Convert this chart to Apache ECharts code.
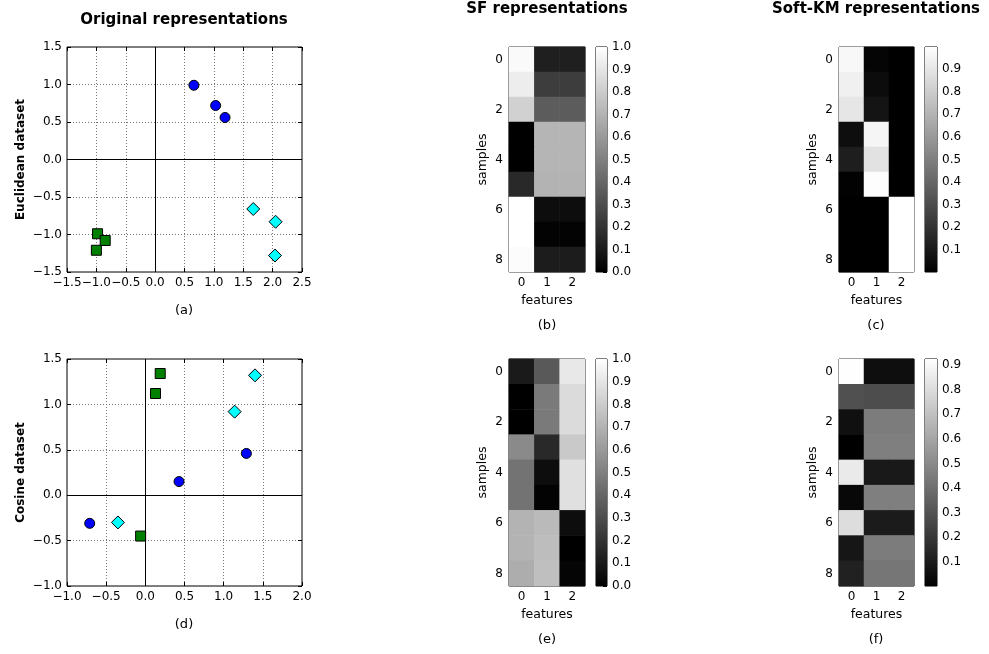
<!DOCTYPE html>
<html><head><meta charset="utf-8">
<script src="https://cdn.jsdelivr.net/npm/echarts@6/dist/echarts.min.js"></script>
<style>html,body{margin:0;padding:0;background:#fff}#c{width:989px;height:654px}</style>
</head><body><div id="c"></div><script>
// ---------- data ----------
const eucBlue  = [[0.66, 0.99], [1.03, 0.72], [1.19, 0.56]];
const eucCyan  = [[1.67, -0.66], [2.05, -0.83], [2.04, -1.28]];
const eucGreen = [[-0.98, -0.99], [-0.85, -1.08], [-1.00, -1.21]];
const cosBlue  = [[-0.71, -0.31], [0.43, 0.15], [1.29, 0.46]];
const cosCyan  = [[-0.35, -0.30], [1.14, 0.92], [1.40, 1.32]];
const cosGreen = [[-0.06, -0.45], [0.13, 1.12], [0.19, 1.34]];

const featureLabels = ['0', '1', '2'];
const sampleLabels = ['0', '1', '2', '3', '4', '5', '6', '7', '8'];

const sfEuc = [
  [0.98, 0.12, 0.12], [0.93, 0.24, 0.24], [0.82, 0.36, 0.36],
  [0.00, 0.71, 0.71], [0.00, 0.71, 0.71], [0.16, 0.70, 0.70],
  [1.00, 0.05, 0.05], [1.00, 0.01, 0.01], [0.99, 0.11, 0.11]
];
const kmEuc = [
  [0.97, 0.02, 0.003], [0.94, 0.05, 0.003], [0.90, 0.08, 0.003],
  [0.055, 0.96, 0.003], [0.12, 0.885, 0.003], [0.01, 0.99, 0.003],
  [0.003, 0.003, 0.997], [0.003, 0.003, 0.997], [0.003, 0.003, 0.997]
];
const sfCos = [
  [0.10, 0.35, 0.91], [0.00, 0.48, 0.86], [0.00, 0.48, 0.86],
  [0.54, 0.16, 0.79], [0.45, 0.05, 0.88], [0.45, 0.01, 0.88],
  [0.70, 0.73, 0.05], [0.70, 0.74, 0.00], [0.68, 0.75, 0.02]
];
const kmCos = [
  [0.92, 0.05, 0.05], [0.29, 0.28, 0.28], [0.06, 0.45, 0.45],
  [0.001, 0.46, 0.46], [0.85, 0.09, 0.09], [0.03, 0.46, 0.46],
  [0.80, 0.10, 0.10], [0.08, 0.45, 0.45], [0.12, 0.43, 0.43]
];
const sfRange = [0, 1];
const kmEucRange = [0.002, 0.998];
const kmCosRange = [0.001, 0.925];
const cbTicksFull = [0, 0.1, 0.2, 0.3, 0.4, 0.5, 0.6, 0.7, 0.8, 0.9, 1.0];
const cbTicksKM = [0.1, 0.2, 0.3, 0.4, 0.5, 0.6, 0.7, 0.8, 0.9];

// ---------- build ----------
const FONT = 'DejaVu Sans';
const fmt = v => v.toFixed(1).replace('-', '\u2212');
const grids = [], xAxes = [], yAxes = [], series = [], visualMaps = [];

function addGrid(l, t, w, h) {
  grids.push({left: l, top: t, width: w, height: h, show: true, borderColor: '#000', borderWidth: 1, backgroundColor: 'transparent'});
  return grids.length - 1;
}
const tickStyle = {show: true, inside: true, length: 4, lineStyle: {color: '#000', width: 1}};
const labelStyle = {color: '#000', fontFamily: FONT, fontSize: 12};
const noLine = {show: false, onZero: false};

function scatterPanel(gi, xr, yr, yname, sets) {
  const xi = xAxes.length, yi = yAxes.length;
  const base = {gridIndex: gi, type: 'value', interval: 0.5, axisLine: noLine, axisTick: tickStyle};
  xAxes.push(Object.assign({}, base, {min: xr[0], max: xr[1], position: 'bottom',
    axisLabel: Object.assign({formatter: fmt, margin: 5}, labelStyle),
    splitLine: {show: true, lineStyle: {type: [1, 2], color: '#777', width: 1}}}));
  xAxes.push(Object.assign({}, base, {min: xr[0], max: xr[1], position: 'top', axisLabel: {show: false}, splitLine: {show: false}}));
  yAxes.push(Object.assign({}, base, {min: yr[0], max: yr[1], position: 'left',
    name: yname, nameLocation: 'middle', nameGap: 40,
    nameTextStyle: {fontFamily: FONT, fontSize: 12, fontWeight: 'bold', color: '#000'},
    axisLabel: Object.assign({formatter: fmt, margin: 5}, labelStyle),
    splitLine: {show: true, lineStyle: {type: [1, 2], color: '#777', width: 1}}}));
  yAxes.push(Object.assign({}, base, {min: yr[0], max: yr[1], position: 'right', axisLabel: {show: false}, splitLine: {show: false}}));
  series.push({type: 'scatter', xAxisIndex: xi, yAxisIndex: yi, data: [[0, 0]], symbolSize: 0, z: 1, silent: true,
    markLine: {silent: true, symbol: 'none', label: {show: false}, animation: false,
      lineStyle: {color: '#000', type: 'solid', width: 1}, data: [{xAxis: 0}, {yAxis: 0}]}});
  sets.forEach(s => series.push({type: 'scatter', xAxisIndex: xi, yAxisIndex: yi, data: s.data, symbol: s.symbol, symbolSize: s.size, z: 3,
    itemStyle: {color: s.color, borderColor: '#000', borderWidth: 1, opacity: 1}}));
}

function heatPanel(gi, cgi, rows, range, ticks) {
  const xi = xAxes.length, yi = yAxes.length;
  const catBase = {gridIndex: gi, type: 'category', axisLine: noLine, splitLine: {show: false}, splitArea: {show: false}};
  xAxes.push(Object.assign({}, catBase, {data: featureLabels, position: 'bottom',
    name: 'features', nameLocation: 'middle', nameGap: 22,
    nameTextStyle: {fontFamily: FONT, fontSize: 12.5, color: '#000'},
    axisTick: Object.assign({alignWithLabel: true}, tickStyle),
    axisLabel: Object.assign({margin: 5}, labelStyle)}));
  xAxes.push(Object.assign({}, catBase, {data: featureLabels, position: 'top',
    axisTick: Object.assign({alignWithLabel: true}, tickStyle), axisLabel: {show: false}}));
  yAxes.push(Object.assign({}, catBase, {data: sampleLabels, position: 'left', inverse: true,
    name: 'samples', nameLocation: 'middle', nameGap: 20,
    nameTextStyle: {fontFamily: FONT, fontSize: 12.5, color: '#000'},
    axisTick: Object.assign({alignWithLabel: true, interval: 1}, tickStyle),
    axisLabel: Object.assign({margin: 6, interval: 1}, labelStyle)}));
  yAxes.push(Object.assign({}, catBase, {data: sampleLabels, position: 'right', inverse: true,
    axisTick: Object.assign({alignWithLabel: true, interval: 1}, tickStyle), axisLabel: {show: false}}));
  const data = [];
  rows.forEach((r, i) => r.forEach((v, j) => data.push([j, i, v])));
  const si = series.length;
  series.push({type: 'heatmap', xAxisIndex: xi, yAxisIndex: yi, data: data, z: 2, itemStyle: {borderWidth: 0}, emphasis: {disabled: true}});
  visualMaps.push({show: false, type: 'continuous', seriesIndex: si, dimension: 2, min: range[0], max: range[1], inRange: {color: ['#000000', '#ffffff']}});
  // colorbar
  const cxi = xAxes.length, cyi = yAxes.length;
  xAxes.push({gridIndex: cgi, type: 'category', data: ['cb'], show: false, axisLine: noLine});
  yAxes.push({gridIndex: cgi, type: 'value', min: range[0], max: range[1], position: 'right',
    axisLine: noLine, splitLine: {show: false},
    axisTick: Object.assign({customValues: ticks}, tickStyle),
    axisLabel: Object.assign({customValues: ticks, margin: 5, formatter: v => v.toFixed(1), showMinLabel: true, showMaxLabel: true}, labelStyle)});
  series.push({type: 'bar', xAxisIndex: cxi, yAxisIndex: cyi, data: [range[1]], barWidth: '100%', silent: true, z: 1,
    itemStyle: {color: new echarts.graphic.LinearGradient(0, 0, 0, 1, [{offset: 0, color: '#ffffff'}, {offset: 1, color: '#000000'}])}});
}

const gA = addGrid(67, 47, 235, 225);
const gD = addGrid(67, 359, 235, 227);
const gB = addGrid(509, 47, 76, 225), gBc = addGrid(596, 47, 11, 225);
const gC = addGrid(839, 47, 75, 225), gCc = addGrid(925, 47, 12, 225);
const gE = addGrid(509, 359, 76, 227), gEc = addGrid(596, 359, 11, 227);
const gF = addGrid(839, 359, 75, 227), gFc = addGrid(925, 359, 12, 227);

scatterPanel(gA, [-1.5, 2.5], [-1.5, 1.5], 'Euclidean dataset', [
  {data: eucBlue, symbol: 'circle', size: 10, color: '#0000ff'},
  {data: eucCyan, symbol: 'diamond', size: 13, color: '#00ffff'},
  {data: eucGreen, symbol: 'rect', size: 10, color: '#008000'}]);
scatterPanel(gD, [-1, 2], [-1, 1.5], 'Cosine dataset', [
  {data: cosBlue, symbol: 'circle', size: 10, color: '#0000ff'},
  {data: cosCyan, symbol: 'diamond', size: 13, color: '#00ffff'},
  {data: cosGreen, symbol: 'rect', size: 10, color: '#008000'}]);
heatPanel(gB, gBc, sfEuc, sfRange, cbTicksFull);
heatPanel(gC, gCc, kmEuc, kmEucRange, cbTicksKM);
heatPanel(gE, gEc, sfCos, sfRange, cbTicksFull);
heatPanel(gF, gFc, kmCos, kmCosRange, cbTicksKM);

function txt(s, x, y, font) {
  return {type: 'text', x: x, y: y, silent: true, style: {text: s, font: font, fill: '#000', align: 'center', verticalAlign: 'middle', textAlign: 'center', textVerticalAlign: 'middle'}};
}
const graphics = [
  txt('Original representations', 184, 20, 'bold 15px "DejaVu Sans"'),
  txt('SF representations', 547, 9, 'bold 15px "DejaVu Sans"'),
  txt('Soft-KM representations', 876, 9, 'bold 15px "DejaVu Sans"'),
  txt('(a)', 184, 311, '13px "DejaVu Sans"'),
  txt('(b)', 547, 326, '13px "DejaVu Sans"'),
  txt('(c)', 876, 326, '13px "DejaVu Sans"'),
  txt('(d)', 184, 625, '13px "DejaVu Sans"'),
  txt('(e)', 547, 640, '13px "DejaVu Sans"'),
  txt('(f)', 876, 640, '13px "DejaVu Sans"')
];

const chart = echarts.init(document.getElementById('c'), null, {renderer: 'canvas'});
chart.setOption({
  animation: false,
  backgroundColor: '#ffffff',
  textStyle: {fontFamily: FONT},
  grid: grids, xAxis: xAxes, yAxis: yAxes, visualMap: visualMaps, series: series,
  graphic: {elements: graphics}
});
</script></body></html>
